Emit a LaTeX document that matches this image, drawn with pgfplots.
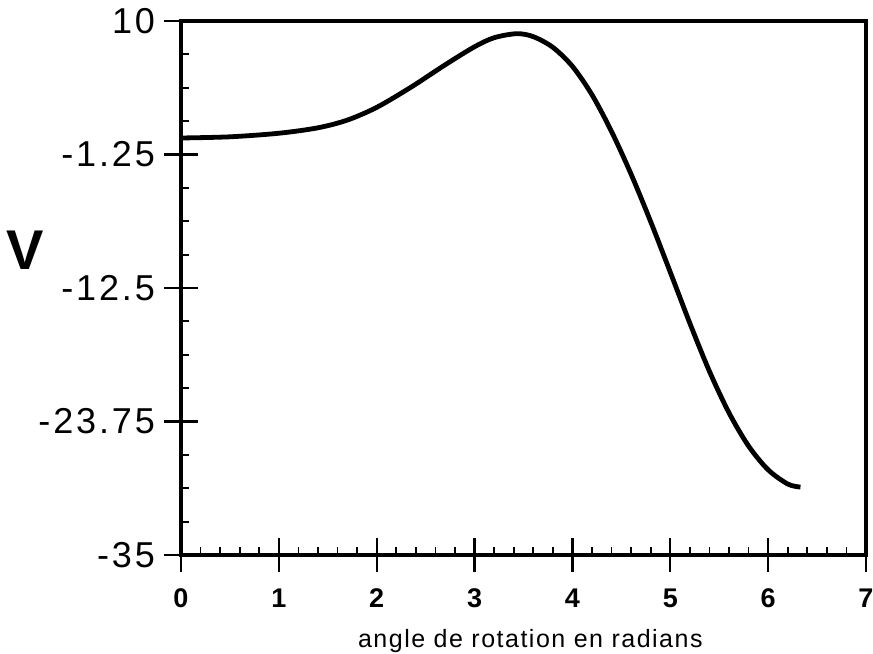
\documentclass[border=0pt]{standalone}
\usepackage{fontspec}
\setmainfont{Liberation Sans}
\newfontfamily\tickfont[LetterSpace=8]{Liberation Sans}
\newfontfamily\labfont[LetterSpace=6]{Liberation Sans}
\usepackage{pgfplots}
\pgfplotsset{compat=1.18}

\begin{document}
\begin{tikzpicture}
\begin{axis}[%
name=ax,
width=342.5pt,
height=267pt,
scale only axis,
xmin=0, xmax=7,
ymin=-35, ymax=10,
axis line style={line width=1.6pt},
xtick={0,1,2,3,4,5,6,7},
xticklabels={0,1,2,3,4,5,6,7},
minor x tick num=4,
ytick={-35,-23.75,-12.5,-1.25,10},
yticklabels={-35,-23.75,-12.5,-1.25,10},
minor y tick num=3,
xtick pos=bottom,
ytick pos=left,
tick align=center,
major tick length=17pt,
minor tick length=4pt,
major tick style={line width=1.1pt, black},
minor tick style={line width=0.9pt, black},
minor x tick style={yshift=2pt},
minor y tick style={xshift=2pt},
xticklabel style={font=\bfseries\fontsize{13.5}{15}\selectfont, yshift=-5pt},
yticklabel style={font=\tickfont\fontsize{18}{20}\selectfont, xshift=-1pt},
clip=false
]
\addplot [black, line width=2.4pt, smooth]
  table[row sep=crcr]{0.00	0.14\\
0.50	0.24\\
1.00	0.54\\
1.40	1.00\\
1.70	1.65\\
2.00	2.72\\
2.35	4.42\\
2.70	6.31\\
3.00	7.83\\
3.20	8.59\\
3.43	8.93\\
3.60	8.68\\
3.80	7.78\\
4.00	6.18\\
4.20	3.78\\
4.40	0.68\\
4.60	-2.92\\
4.80	-6.92\\
5.00	-11.17\\
5.20	-15.47\\
5.40	-19.52\\
5.60	-23.02\\
5.80	-25.82\\
6.00	-27.82\\
6.20	-29.02\\
6.33	-29.28\\
};
\node[font=\bfseries\fontsize{28}{32}\selectfont, xshift=-77.75pt] at (rel axis cs:0,0.571) {V};
\node[font=\labfont\fontsize{12.5}{14}\selectfont, anchor=base, yshift=-46pt] at (rel axis cs:0.51,0) {angle de rotation en radians};
\end{axis}
\pgfresetboundingbox
\path[use as bounding box] ([shift={(-90.5pt,-49.5pt)}]ax.south west) rectangle ([shift={(3.5pt,10.5pt)}]ax.north east);
\end{tikzpicture}
\end{document}
